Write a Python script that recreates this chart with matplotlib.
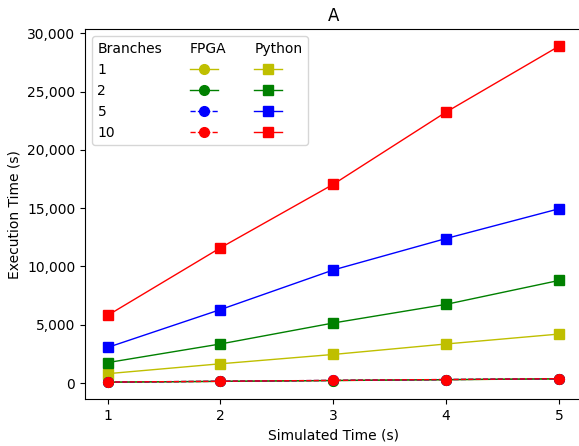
import matplotlib
matplotlib.use('Agg')
import matplotlib.pyplot as plt
from matplotlib.patches import Rectangle
from matplotlib.ticker import FuncFormatter

sim_time = [1, 2, 3, 4, 5]
branches = [1, 2, 5, 10]
colors = ['y', 'g', 'b', 'r']
fpga_styles = ['-', '-', '--', '--']

fpga_times = [
    [70, 140, 210, 285, 355],
    [72, 143, 215, 290, 360],
    [75, 148, 220, 295, 365],
    [80, 150, 225, 300, 370],
]
python_times = [
    [800, 1650, 2450, 3350, 4200],
    [1750, 3350, 5150, 6750, 8800],
    [3050, 6300, 9700, 12400, 14950],
    [5800, 11600, 17050, 23250, 28900],
]

fig = plt.figure(figsize=(5.79, 4.46), dpi=100)
ax = fig.add_axes([0.1468, 0.1054, 0.8575, 0.8286])

fpga_lines = []
py_lines = []
for b, c, ls, f, p in zip(branches, colors, fpga_styles, fpga_times, python_times):
    py, = ax.plot(sim_time, p, color=c, marker='s', markersize=7, linewidth=1)
    fp, = ax.plot(sim_time, f, color=c, marker='o', markersize=7, linewidth=1, linestyle=ls)
    fpga_lines.append(fp)
    py_lines.append(py)

ax.set_xticks(sim_time)
ax.yaxis.set_major_formatter(FuncFormatter(lambda v, pos: f'{int(v):,}'))
ax.set_xlabel('Simulated Time (s)')
ax.set_ylabel('Execution Time (s)')
ax.set_title('A')

# table-style legend: header row + one row per branch count
blank = Rectangle((0, 0), 1, 1, fill=False, edgecolor='none', linewidth=0)
handles = [blank] * 5 + [blank] + fpga_lines + [blank] + py_lines
labels = ['Branches'] + [str(b) for b in branches] + ['FPGA'] + [''] * 4 + ['Python'] + [''] * 4
ax.legend(handles, labels, ncol=3, loc='upper left', handletextpad=-2.0)

fig.savefig('out.png', dpi=100)
